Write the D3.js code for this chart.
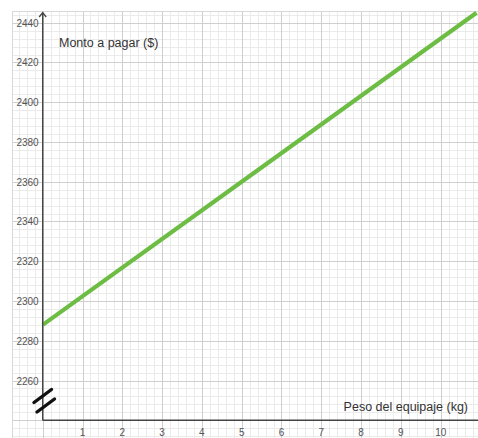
<!DOCTYPE html>
<meta charset="utf-8">
<style>
body { margin: 0; background: #fff; }
svg { display: block; font-family: "Liberation Sans", Arial, sans-serif; }
.minor line { stroke: #ebebeb; stroke-width: 1px; }
.major line { stroke: #cfcfcf; stroke-width: 1px; }
.ticks text { fill: #555; font-size: 10px; }
.axis-title { fill: #333; font-size: 12.5px; }
</style>
<svg width="478" height="438"></svg>
<script src="https://cdn.jsdelivr.net/npm/d3@7"></script>
<script>

// values
var weightTicks = [1, 2, 3, 4, 5, 6, 7, 8, 9, 10];
var amountTicks = [2260, 2280, 2300, 2320, 2340, 2360, 2380, 2400, 2420, 2440];
var weight = [0, 5, 10.9];
var amount = [2288, 2360, 2445];

var svg = d3.select("svg"),
    width = +svg.attr("width"),
    height = +svg.attr("height");

var x = d3.scaleLinear().domain([0, 10]).range([42.7, 440.7]);
var y = d3.scaleLinear().domain([2260, 2440]).range([380.5, 22.7]);

var plotLeft = 12, plotTop = 11;
var xMin = x.invert(plotLeft), xMax = x.invert(width);
var yMin = y.invert(height), yMax = y.invert(plotTop);

svg.append("clipPath").attr("id", "plot")
  .append("rect").attr("x", plotLeft).attr("y", plotTop)
  .attr("width", width - plotLeft).attr("height", height - plotTop);

var grid = svg.append("g").attr("clip-path", "url(#plot)");

// minor grid: 5 per unit on x, every 4 on y
var minorX = d3.range(Math.ceil(xMin * 5), Math.floor(xMax * 5) + 1).map(function(i) { return i / 5; });
var minorY = d3.range(Math.ceil(yMin / 4), Math.floor(yMax / 4) + 1).map(function(i) { return i * 4; });
var majorX = d3.range(Math.ceil(xMin), Math.floor(xMax) + 1);
var majorY = d3.range(Math.ceil(yMin / 20), Math.floor(yMax / 20) + 1).map(function(i) { return i * 20; });

var minor = grid.append("g").attr("class", "minor");
minor.selectAll(".vx").data(minorX).enter().append("line")
    .attr("x1", function(d) { return Math.round(x(d)) + 0.5; })
    .attr("x2", function(d) { return Math.round(x(d)) + 0.5; })
    .attr("y1", plotTop).attr("y2", height);
minor.selectAll(".hy").data(minorY).enter().append("line")
    .attr("y1", function(d) { return Math.round(y(d)) + 0.5; })
    .attr("y2", function(d) { return Math.round(y(d)) + 0.5; })
    .attr("x1", plotLeft).attr("x2", width);

var major = grid.append("g").attr("class", "major");
major.selectAll(".vx").data(majorX).enter().append("line")
    .attr("x1", function(d) { return Math.round(x(d)) + 0.5; })
    .attr("x2", function(d) { return Math.round(x(d)) + 0.5; })
    .attr("y1", plotTop).attr("y2", height);
major.selectAll(".hy").data(majorY).enter().append("line")
    .attr("y1", function(d) { return Math.round(y(d)) + 0.5; })
    .attr("y2", function(d) { return Math.round(y(d)) + 0.5; })
    .attr("x1", plotLeft).attr("x2", width);

// border of grid
grid.append("rect").attr("x", plotLeft + 0.5).attr("y", plotTop + 0.5)
    .attr("width", width - plotLeft).attr("height", height - plotTop)
    .attr("fill", "none").attr("stroke", "#d8d8d8");

var axisY = y(2240);

// data line
var line = d3.line()
    .x(function(d, i) { return x(weight[i]); })
    .y(function(d) { return y(d); });

grid.append("path")
    .datum(amount)
    .attr("d", line)
    .attr("fill", "none")
    .attr("stroke", "#6dbd45")
    .attr("stroke-width", 4.2);

// axes
svg.append("line")
    .attr("x1", x(0)).attr("x2", width)
    .attr("y1", axisY).attr("y2", axisY)
    .attr("stroke", "#444").attr("stroke-width", 1.4);
svg.append("line")
    .attr("x1", x(0)).attr("x2", x(0))
    .attr("y1", axisY).attr("y2", plotTop + 2)
    .attr("stroke", "#444").attr("stroke-width", 1.4);
svg.append("path")
    .attr("d", "M" + (x(0) - 3.5) + "," + (plotTop + 6) + "L" + x(0) + "," + (plotTop + 1.5) + "L" + (x(0) + 3.5) + "," + (plotTop + 6))
    .attr("fill", "none").attr("stroke", "#444").attr("stroke-width", 1.3);

// tick labels
var ticks = svg.append("g").attr("class", "ticks");
ticks.selectAll(".tx").data(weightTicks).enter().append("text")
    .attr("x", function(d) { return x(d); })
    .attr("y", axisY + 15.5)
    .attr("text-anchor", "middle")
    .text(function(d) { return d; });
ticks.selectAll(".ty").data(amountTicks).enter().append("text")
    .attr("x", x(0) - 4)
    .attr("y", function(d) { return y(d) + 4; })
    .attr("text-anchor", "end")
    .text(function(d) { return d; });

// axis break mark
var brk = svg.append("g").attr("stroke", "#111").attr("stroke-width", 3.4).attr("stroke-linecap", "round");
brk.append("line").attr("x1", 34).attr("y1", 402.5).attr("x2", 51.5).attr("y2", 389.5);
brk.append("line").attr("x1", 37).attr("y1", 412).attr("x2", 54.5).attr("y2", 399);

// axis titles
svg.append("text").attr("class", "axis-title")
    .attr("x", 59).attr("y", 47)
    .text("Monto a pagar ($)");
svg.append("text").attr("class", "axis-title")
    .attr("x", 468).attr("y", 411)
    .attr("text-anchor", "end")
    .text("Peso del equipaje (kg)");

</script>
